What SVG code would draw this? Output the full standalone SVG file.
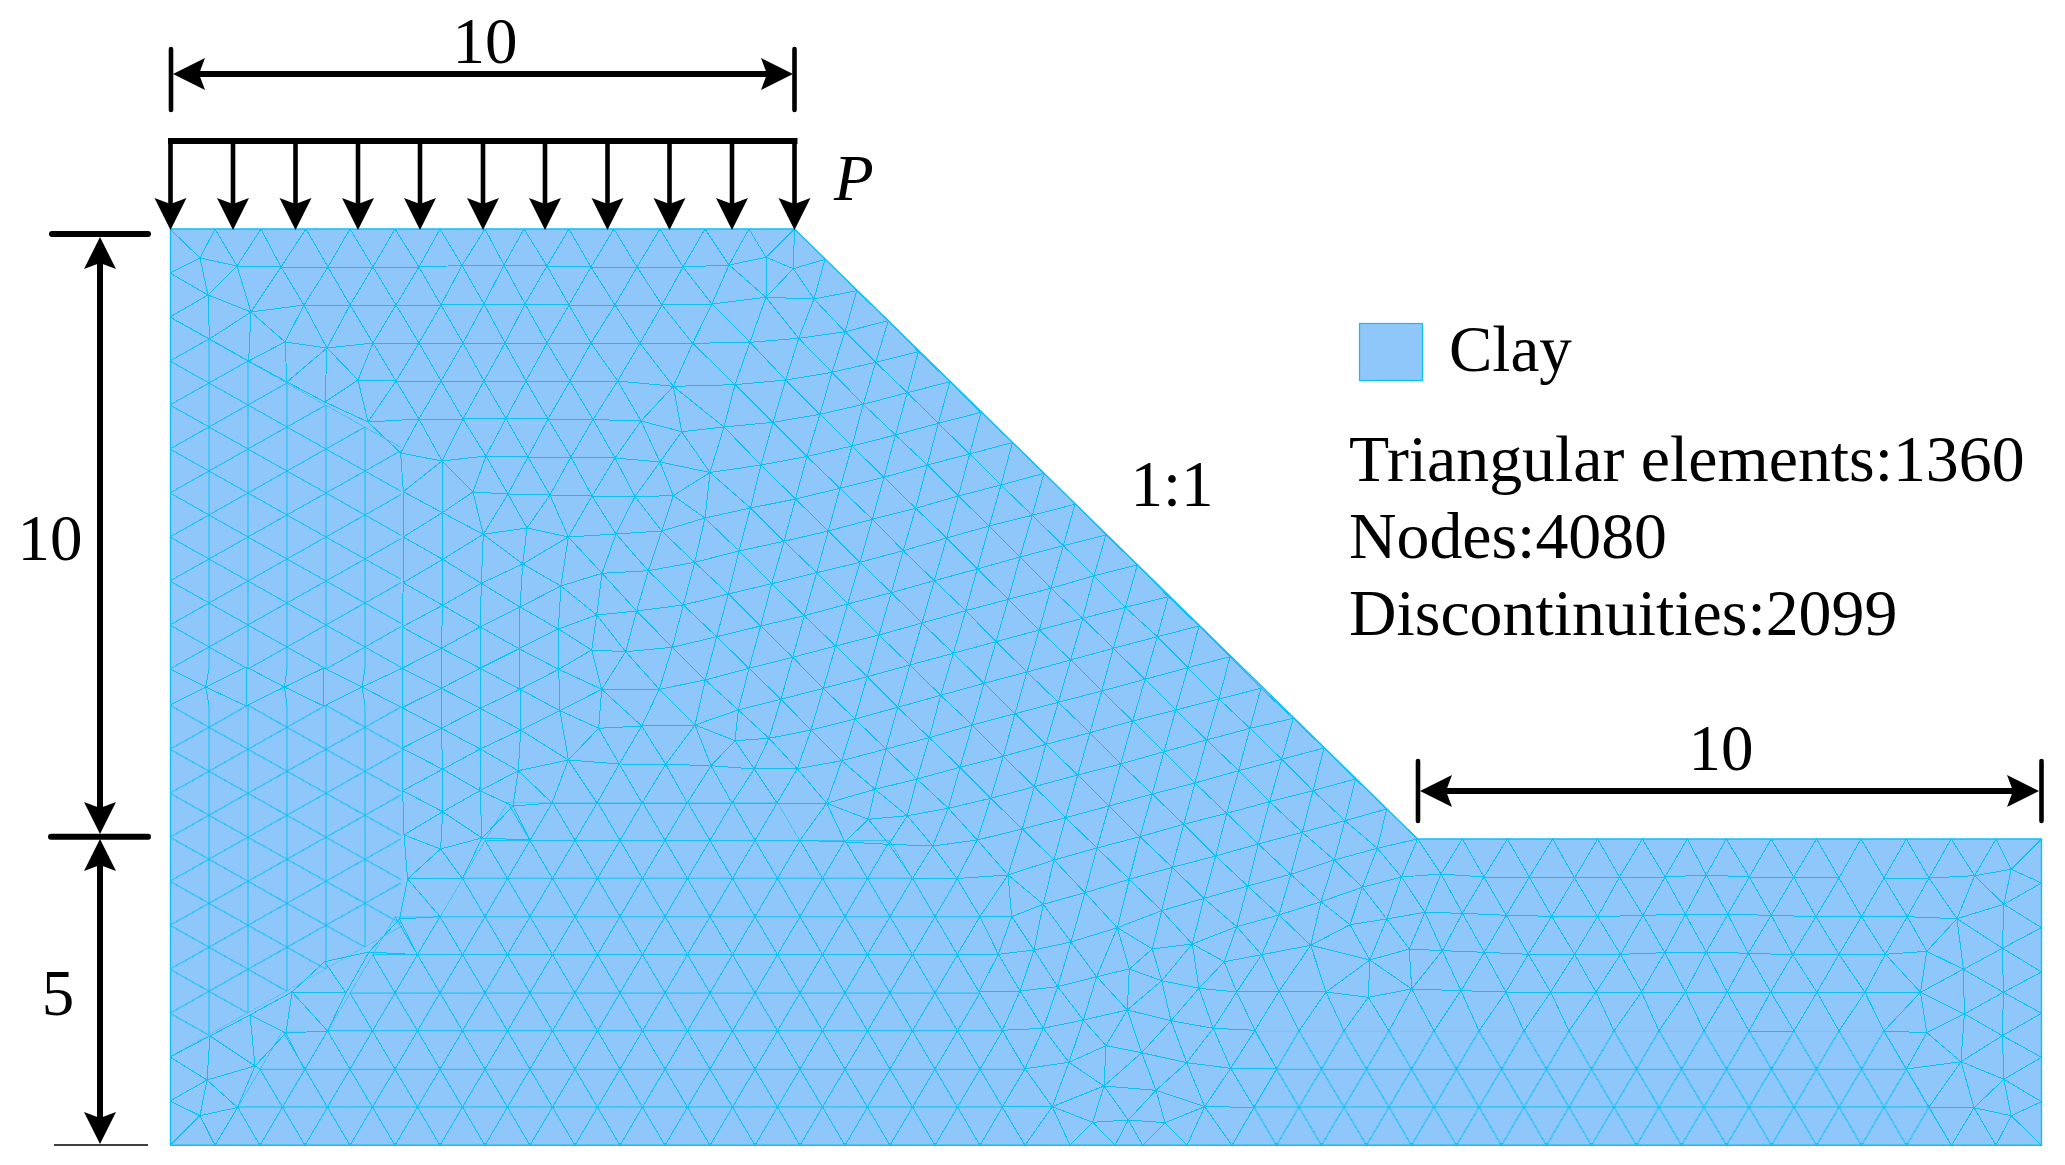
<svg xmlns="http://www.w3.org/2000/svg" width="2065" height="1165" viewBox="0 0 2065 1165">
<style>
.m{fill:none;stroke:#0bc0f5;stroke-width:1;shape-rendering:crispEdges}
.t{font-family:"Liberation Serif","Times New Roman",serif;font-size:65px;fill:#000}
.w{font-size:65.8px}
.c{text-anchor:middle}
.k{stroke:#000;fill:none;stroke-width:6}
.s{stroke:#000;fill:none;stroke-width:4.6}
.r{stroke-linecap:round}
</style>
<defs>
<marker id="ah" markerUnits="userSpaceOnUse" markerWidth="40" markerHeight="36" viewBox="0 -18 40 36" refX="6" refY="0" orient="auto-start-reverse"><path d="M0-16 32 0 0 16 6 0Z" fill="#000"/></marker>
<pattern id="h1" patternUnits="userSpaceOnUse" x="170" y="1126.24" width="45" height="76.24"><path class="m" d="M0 19.06H45M0 57.18H45M-11.25 0 33.75 76.24M33.75 0 78.75 76.24M56.25 0 11.25 76.24M11.25 0-33.75 76.24"/></pattern>
<pattern id="h2" patternUnits="userSpaceOnUse" x="2041.5" y="1126.24" width="45" height="76.24"><path class="m" d="M0 19.06H45M0 57.18H45M-11.25 0 33.75 76.24M33.75 0 78.75 76.24M56.25 0 11.25 76.24M11.25 0-33.75 76.24"/></pattern>
<pattern id="d1" patternUnits="userSpaceOnUse" x="150.5" y="229" width="78" height="88"><path class="m" d="M0-11 78 33M0 33 78 77M0 77 78 121M0 11 78-33M0 55 78 11M0 99 78 55M19.5 0V88M58.5 0V88"/></pattern>
<pattern id="d2" patternUnits="userSpaceOnUse" x="150.5" y="1145.3" width="78" height="88"><path class="m" d="M0-11 78 33M0 33 78 77M0 77 78 121M0 11 78-33M0 55 78 11M0 99 78 55M19.5 0V88M58.5 0V88"/></pattern>
</defs>
<rect width="2065" height="1165" fill="#fff"/>
<g id="soil">
<polygon points="170.5,229 794.5,229 1417.6,839 2041.5,839 2041.5,1145.3 170.5,1145.3" fill="#90c7fa"/>
<polygon id="mesh-lattice-bl" fill="url(#h1)" points="215,1145.3 237.5,1107.2 260,1069.1 282.5,1031 327.5,1031 350,992.8 372.5,954.7 395,916.6 440,916.6 462.5,878.5 485,840.3 507.5,802.2 777.5,802.2 800,840.3 890,840.3 912.5,878.5 957.5,878.5 980,916.6 957.5,954.7 980,992.8 1002.5,1031 1025,1069.1 1002.5,1107.2 1025,1145.3"/>
<polygon id="mesh-lattice-br" fill="url(#h2)" points="1254,1031 1884,1031 1906.5,1069.1 1929,1107.2 1951.5,1145.3 1231.5,1145.3 1254,1107.2 1276.5,1069.1"/>
<polygon id="mesh-diamond-top" fill="url(#d1)" points="170,317 209,339 248,361 287,383 326,405 365,427 401,447 401,669 170,669"/>
<polygon id="mesh-diamond-bottom" fill="url(#d2)" points="170,705 401,705 401,927 365,947 326,969 287,991 248,1013 209,1035 170,1057"/>
<path id="mesh-top" class="m" d="M170 229 200 258 215 229 237 266 261 229 281 267 306 229 328 267 350 229 373 267 395 229 419 267 440 229 462 265.5 485 229 504 265 524 229 547 266 569 229 591 267 614 229 637 267 660 229 683 267 705 229 729 265 749 229 766 257.3 794.5 229 793.3 268.7
M200 258 237 266 281 267 328 267 373 267 419 267 462 265.5 504 265 547 266 591 267 637 267 683 267 729 265 766 257.3 793.3 268.7 825 259.3
M208 295 251 312 304 305 350 305 396 305 441 305 484 304 525 304 569 305 615 305 662 305 712 304 766 297.3 814 299 856.7 290.7
M251 312 285 342 327 348 373 343 419 343 463 343 505 343 547 343 591 343 640 343.3 692.7 343.3 750 342.3 798.7 338.3 845 331.7 888.3 320.7
M358 380 396 381 441 381 484 381 526 381 570 381 617.7 381 673.3 386.3 735 384.7 785.7 380 832 372.3 875.7 362.3 918.3 351.7
M368 422 419 419 463 419 506 418.5 548 419 593 419.5 641 421 681.7 431.7 724 427 773 422.3 820 414.3 863.3 404.3 907.3 392.7 950 381.7
M400.7 453 442 461 486 456 528 457 571 457 615 458 660 462 710 472.5 761 465 807 456.5 852 446 895.5 435 938.3 423.3 981 412.3
M473 492 508 494 550 495 592 496 635 496.5 673.3 495.7 705 518
M483.3 534.3 527 528 568.3 537 616 534 661.7 531 705 518 750.5 508 795.5 499 840 488.3 884 477.3 927.3 465 969.7 454 1012.5 442.5
M237 266 251 312 281 267 304 305 328 267 350 305 373 267 396 305 419 267 441 305 462 265.5 484 304 504 265 525 304 547 266 569 305 591 267 615 305 637 267 662 305 683 267 712 304 729 265 766 297.3 766 257.3M766 297.3 793.3 268.7 814 299 825 259.3 856.7 290.7
M251 312 285 342 304 305 327 348 350 305 373 343 396 305 419 343 441 305 463 343 484 304 505 343 525 304 547 343 569 305 591 343 615 305 640 343.3 662 305 692.7 343.3 712 304 750 342.3 766 297.3 798.7 338.3 814 299 845 331.7 856.7 290.7 888.3 320.7
M327 348 358 380 373 343 396 381 419 343 441 381 463 343 484 381 505 343 526 381 547 343 570 381 591 343 617.7 381 640 343.3 673.3 386.3 692.7 343.3 735 384.7 750 342.3 785.7 380 798.7 338.3 832 372.3 845 331.7 875.7 362.3 888.3 320.7 918.3 351.7
M358 380 368 422 396 381 419 419 441 381 463 419 484 381 506 418.5 526 381 548 419 570 381 593 419.5 617.7 381 641 421 673.3 386.3 681.7 431.7M673.3 386.3 724 427 735 384.7 773 422.3 785.7 380 820 414.3 832 372.3 863.3 404.3 875.7 362.3 907.3 392.7 918.3 351.7 950 381.7
M368 422 400.7 453 419 419 442 461 463 419 486 456 506 418.5 528 457 548 419 571 457 593 419.5 615 458 641 421 660 462 681.7 431.7 710 472.5 724 427 761 465 773 422.3 807 456.5 820 414.3 852 446 863.3 404.3 895.5 435 907.3 392.7 938.3 423.3 950 381.7 981 412.3
M442 461 473 492 486 456 508 494 528 457 550 495 571 457 592 496 615 458 635 496.5 660 462 673.3 495.7 710 472.5 705 518M710 472.5 750.5 508 761 465 795.5 499 807 456.5 840 488.3 852 446 884 477.3 895.5 435 927.3 465 938.3 423.3 969.7 454 981 412.3 1012.5 442.5
M473 492 483.3 534.3 508 494 527 528 550 495 568.3 537 592 496 616 534 635 496.5 661.7 531 673.3 495.7"/>
<path id="mesh-stair-top" class="m" d="M170 273 208 295 170 317 209.5 339 251 312 248.6 361 285 342 287 382 327 348 325 402 358 380 368 422 325 402 287 382 248.6 361 209.5 339 208 295 200 258 170 273M208 295 237 266M327 348 358 380M251 312 208 295"/>
<path id="mesh-columns" class="m" d="M400.7 453 403.3 491.7 403.3 537 403.3 582.7 402 627 402 668.3 402 707.7 402 748.3 402.7 790.7 404 835 407.6 879
M442 461 442.3 512.7 442.7 559.3 442.7 605.3 441.3 648.3 441.3 688.3 441.3 728.3 442.7 769.3 442.7 811.7 440.6 849
M473 492 483.3 534.3 481.3 583.3 480.3 627 480 668.3 480.3 708.3 480.3 749 480 790.7 482 838
M527 528 522.7 564 520 607 519 648.7 520 689.3 520.7 730 518.3 770.7 513 806
M568.3 537 561 586 558.3 629 558.7 669.3 560 710.7 568.3 760
M602 573.3 596.7 615 591.7 650 601.7 689.3 598.7 728.3
M442 461 403.3 491.7 442.3 512.7 403.3 537 442.7 559.3 403.3 582.7 442.7 605.3 402 627 441.3 648.3 402 668.3 441.3 688.3 402 707.7 441.3 728.3 402 748.3 442.7 769.3 402.7 790.7 442.7 811.7 404 835 440.6 849
M442.3 512.7 473 492M442.3 512.7 483.3 534.3 442.7 559.3 481.3 583.3 442.7 605.3 480.3 627 441.3 648.3 480 668.3 441.3 688.3 480.3 708.3 441.3 728.3 480.3 749 442.7 769.3 480 790.7 442.7 811.7 482 838
M527 528 483.3 534.3 522.7 564 481.3 583.3 520 607 480.3 627 519 648.7 480 668.3 520 689.3 480.3 708.3 520.7 730 480.3 749 518.3 770.7 480 790.7 513 806
M568.3 537 522.7 564 561 586 520 607 558.3 629 519 648.7 558.7 669.3 520 689.3 560 710.7 520.7 730 568.3 760
M568.3 537 602 573.3 561 586 596.7 615 558.3 629 591.7 650 558.7 669.3 601.7 689.3 560 710.7 598.7 728.3 568.3 760
M170 669 205.7 687 246 667 284.5 687 323.7 668 362 687 402 668.3M170 705 205.7 687 246 706 284.5 687 323.7 706 362 687 402 707.7
M246 667V706M323.7 668V706M209 669 205.7 687 209 705M287 669 284.5 687 287 705M365 669 362 687 365 705"/>
<path id="mesh-slope-rows" class="m" d="M602 573.3 648.3 570.7 694.7 562.3 739 551 784 541.3 828.3 531 872.3 519.3 915.7 508.3 958.3 496 1001 485 1044 473.3
M596.7 615 636.7 611 683.3 605 728.3 594 771.7 583.7 816.7 572.7 860 562.3 903.3 550.7 946.7 538 989.3 526 1032.3 515.3 1075 504.3
M591.7 650 625.7 651.7 672.3 647.3 716.7 636.7 760.7 626 804.3 615.7 847.7 604 891.3 592.7 934.3 580.7 977.3 569 1020 557 1063.3 545.7 1106 535
M601.7 689.3 659.3 689.3 705.3 680 749 668.3 792.7 657.3 835.7 646 879 635 922 623 965.7 610.7 1008.3 599.3 1051 588.3 1094 575.7 1137.3 565
M598.7 728.3 641.7 726 695 725 738.3 710 781 699.3 823.3 688.3 867.3 676.7 910 665 953.3 653.3 996 641.7 1039.3 630 1082.7 618.3 1125.3 607.3 1168.3 596.7
M735 740.7 769 738.3 811 730 855 719 897.7 707.3 940.7 695.3 984 683.3 1027 672 1070.7 660 1113.3 648.3 1157.3 636.7 1199 626
M518.3 770.7 568.3 760 619.3 764 665.7 764.3 711 765.7 754.3 769 797.3 768.7 841.7 760.7 886 749 929.3 737.7 972.3 725 1015 713.7 1058.3 702.3 1101.7 691 1145 679.3 1188 667.7 1230 656.7
M513 806 552 803 597 803 642 803 687.3 803 732 803 777 803 826.7 803.3 875 789.3 917 779 960 767.3 1003.3 756.3 1046 744.3 1090 732.7 1132.7 721 1175.7 710 1219 699 1261 688.3
M868.3 819.3 907.3 815.7 948.3 808.3 990.7 798.3 1034.3 786.7 1077.7 775 1120.7 764 1164 751.7 1206.7 740 1250 728.3 1293.3 718.3
M800 840.3 845 842 889 844.3 932.7 846 977.3 840 1022.3 829 1065.7 817.7 1109 806 1152.3 794 1195 783 1238.7 770.7 1281.7 759.3 1324 748
M912.5 878.5 957 878.5 1008 875 1054 860 1097 848 1140 836.7 1183.7 824.3 1226.7 813.3 1269.7 801.7 1313 790.7 1355.5 779
M980 916.6 1011.7 916.7 1043.3 904.3 1085 892.7 1129.3 879.3 1172.3 867.3 1215.7 856 1258.3 844 1302.3 832.3 1345 820.7 1386.7 809
M957 954.7 998.3 954.3 1034 950 1071 942 1117.3 927.7 1161.7 910.7 1204 898.3 1247.7 886 1290.7 874.3 1334.3 860 1377.3 848.3 1417.6 839
M1152.3 949 1192.3 944 1236.7 926.7 1279 915 1321 901.7 1362.3 887.3 1401.5 877"/>
<path id="mesh-slope-zig" class="m" d="M568.3 537 602 573.3 616 534 648.3 570.7 661.7 531 694.7 562.3 705 518 739 551 750.5 508 784 541.3 795.5 499 828.3 531 840 488.3 872.3 519.3 884 477.3 915.7 508.3 927.3 465 958.3 496 969.7 454 1001 485 1012.5 442.5 1044 473.3
M596.7 615 602 573.3 636.7 611 648.3 570.7 683.3 605 694.7 562.3 728.3 594 739 551 771.7 583.7 784 541.3 816.7 572.7 828.3 531 860 562.3 872.3 519.3 903.3 550.7 915.7 508.3 946.7 538 958.3 496 989.3 526 1001 485 1032.3 515.3 1044 473.3 1075 504.3
M591.7 650 596.7 615 625.7 651.7 636.7 611 672.3 647.3 683.3 605 716.7 636.7 728.3 594 760.7 626 771.7 583.7 804.3 615.7 816.7 572.7 847.7 604 860 562.3 891.3 592.7 903.3 550.7 934.3 580.7 946.7 538 977.3 569 989.3 526 1020 557 1032.3 515.3 1063.3 545.7 1075 504.3 1106 535
M591.7 650 601.7 689.3 625.7 651.7 659.3 689.3 672.3 647.3 705.3 680 716.7 636.7 749 668.3 760.7 626 792.7 657.3 804.3 615.7 835.7 646 847.7 604 879 635 891.3 592.7 922 623 934.3 580.7 965.7 610.7 977.3 569 1008.3 599.3 1020 557 1051 588.3 1063.3 545.7 1094 575.7 1106 535 1137.3 565
M598.7 728.3 601.7 689.3 641.7 726 659.3 689.3 695 725 705.3 680 738.3 710 749 668.3 781 699.3 792.7 657.3 823.3 688.3 835.7 646 867.3 676.7 879 635 910 665 922 623 953.3 653.3 965.7 610.7 996 641.7 1008.3 599.3 1039.3 630 1051 588.3 1082.7 618.3 1094 575.7 1125.3 607.3 1137.3 565 1168.3 596.7
M695 725 735 740.7 738.3 710 769 738.3 781 699.3 811 730 823.3 688.3 855 719 867.3 676.7 897.7 707.3 910 665 940.7 695.3 953.3 653.3 984 683.3 996 641.7 1027 672 1039.3 630 1070.7 660 1082.7 618.3 1113.3 648.3 1125.3 607.3 1157.3 636.7 1168.3 596.7 1199 626
M568.3 760 598.7 728.3 619.3 764 641.7 726 665.7 764.3 695 725 711 765.7 735 740.7 754.3 769 769 738.3 797.3 768.7 811 730 841.7 760.7 855 719 886 749 897.7 707.3 929.3 737.7 940.7 695.3 972.3 725 984 683.3 1015 713.7 1027 672 1058.3 702.3 1070.7 660 1101.7 691 1113.3 648.3 1145 679.3 1157.3 636.7 1188 667.7 1199 626 1230 656.7
M552 803 568.3 760 597 803 619.3 764 642 803 665.7 764.3 687.3 803 711 765.7 732 803 754.3 769 777 803 797.3 768.7 826.7 803.3 841.7 760.7 875 789.3 886 749 917 779 929.3 737.7 960 767.3 972.3 725 1003.3 756.3 1015 713.7 1046 744.3 1058.3 702.3 1090 732.7 1101.7 691 1132.7 721 1145 679.3 1175.7 710 1188 667.7 1219 699 1230 656.7 1261 688.3
M826.7 803.3 868.3 819.3 875 789.3 907.3 815.7 917 779 948.3 808.3 960 767.3 990.7 798.3 1003.3 756.3 1034.3 786.7 1046 744.3 1077.7 775 1090 732.7 1120.7 764 1132.7 721 1164 751.7 1175.7 710 1206.7 740 1219 699 1250 728.3 1261 688.3 1293.3 718.3
M800 840.3 826.7 803.3 845 842 868.3 819.3 889 844.3 907.3 815.7 932.7 846 948.3 808.3 977.3 840 990.7 798.3 1022.3 829 1034.3 786.7 1065.7 817.7 1077.7 775 1109 806 1120.7 764 1152.3 794 1164 751.7 1195 783 1206.7 740 1238.7 770.7 1250 728.3 1281.7 759.3 1293.3 718.3 1324 748
M889 844.3 912.5 878.5 932.7 846 957 878.5 977.3 840 1008 875 1022.3 829 1054 860 1065.7 817.7 1097 848 1109 806 1140 836.7 1152.3 794 1183.7 824.3 1195 783 1226.7 813.3 1238.7 770.7 1269.7 801.7 1281.7 759.3 1313 790.7 1324 748 1355.5 779
M957 878.5 980 916.6 1008 875 1043.3 904.3 1054 860 1085 892.7 1097 848 1129.3 879.3 1140 836.7 1172.3 867.3 1183.7 824.3 1215.7 856 1226.7 813.3 1258.3 844 1269.7 801.7 1302.3 832.3 1313 790.7 1345 820.7 1355.5 779 1386.7 809
M1008 875 1011.7 916.7
M957 954.7 980 916.6 998.3 954.3 1011.7 916.7 1034 950 1043.3 904.3 1071 942 1085 892.7 1117.3 927.7 1129.3 879.3 1161.7 910.7 1172.3 867.3 1204 898.3 1215.7 856 1247.7 886 1258.3 844 1290.7 874.3 1302.3 832.3 1334.3 860 1345 820.7 1377.3 848.3 1386.7 809 1417.6 839
M1152.3 949 1161.7 910.7 1192.3 944 1204 898.3 1236.7 926.7 1247.7 886 1279 915 1290.7 874.3 1321 901.7 1334.3 860 1362.3 887.3 1377.3 848.3 1401.5 877 1417.6 839"/>
<path id="mesh-stair-bottom" class="m" d="M170 1145.3 200 1115.7 170 1101 207 1080 200 1115.7 237.5 1107.5 207 1080 170 1057 210 1036 207 1080 255 1066 210 1036 250 1015 255 1066 286 1033 250 1015 292 992 286 1033 327.5 1031 292 992 346 993 327.5 1031
M200 1115.7 215 1145.3 237.5 1107.5 255 1066 260 1069M286 1033 304 1069M292 992 324.6 961.7 346 993 369 952 324.6 961.7M369 952 417.5 954.7 399.6 919 369 952M399.6 919 440 916.6 407.6 879 399.6 919M407.6 879 462.5 878.5 440.6 849 407.6 879M440.6 849 482 838 462.5 878.5M482 838 530 840 513 806 482 838M513 806 552 803 518.3 770.7 513 806M552 803 568.3 760M170 1057 210 1036 250 1015"/>
<path id="mesh-toe-seam" class="m" d="M979 992 1020 991 1057.7 986.7 1096.7 976.7 1129.3 969 1161.7 980.7 1199 988.3 1236.7 992 1279 991.3 1326 992 1368.3 997.3 1411.7 989 1461 990.7 1505.9 992 1550.7 992 1596 992 1641.5 992 1685.4 992 1727.3 992 1770.7 992 1817 992.3 1865 992.3 1920.5 992.3
M957 954.7 980 916.6M957 954.7 979 992 998.3 954.3 1020 991 1034 950 1057.7 986.7 1071 942 1096.7 976.7 1117.3 927.7 1129.3 969 1152.3 949 1161.7 980.7 1192.3 944 1199 988.3 1224.3 961.7 1236.7 992 1261.7 954.7 1279 991.3 1310.7 945.3 1326 992
M1117.3 927.7 1152.3 949M979 992 1002.3 1030.3 1020 991 1043.3 1028.3 1057.7 986.7 1083.3 1020 1096.7 976.7 1127.3 1010 1129.3 969
M1127.3 1010 1161.7 980.7 1171 1020.7 1199 988.3 1213.3 1028.3 1236.7 992 1255 1030.3 1279 991.3 1299 1031 1326 992 1344 1031 1368.3 997.3 1389 1031 1411.7 989 1434 1031 1461 990.7 1479 1031 1505.9 992 1524 1031 1550.7 992 1569 1031 1596 992 1614 1031 1641.5 992 1659 1031 1685.4 992 1704 1031 1727.3 992 1749 1031 1794 1031 1770.7 992 1749 1031M1794 1031 1817 992.3 1839 1031 1865 992.3 1884 1031 1920.5 992.3 1926.8 1032.7
M1002.3 1030.3 1043.3 1028.3 1083.3 1020 1127.3 1010 1171 1020.7 1213.3 1028.3 1255 1030.3
M1002.3 1030.3 1025 1068.7 1043.3 1028.3 1069 1062.3 1083.3 1020 1106 1045.7 1127.3 1010 1141.7 1052.7 1171 1020.7 1186.7 1062.7 1213.3 1028.3 1230.7 1068.3 1255 1030.3 1276.7 1068.7
M1025 1068.7 1069 1062.3 1106 1045.7 1141.7 1052.7 1186.7 1062.7 1230.7 1068.3 1276.7 1068.7
M1002.3 1107 1025 1068.7 1052.3 1106.7 1069 1062.3 1104 1086 1106 1045.7M1104 1086 1141.7 1052.7 1156 1090.3 1186.7 1062.7 1204.7 1106.7 1230.7 1068.3 1254 1107.3 1276.7 1068.7
M1002.3 1107 1052.3 1106.7 1104 1086 1156 1090.3 1204.7 1106.7 1254 1107.3
M1052.3 1106.7 1092.7 1122.3 1128.3 1120 1165 1122.7 1204.7 1106.7M1104 1086 1092.7 1122.3M1104 1086 1128.3 1120 1156 1090.3 1165 1122.7
M1002.3 1107 1025 1145.3 1052.3 1106.7 1070 1145.3 1092.7 1122.3 1115 1145.3 1128.3 1120 1142.7 1145.3 1165 1122.7 1187 1145.3 1204.7 1106.7 1232 1145.3 1254 1107.3
M1192.3 944 1224.3 961.7 1236.7 926.7 1261.7 954.7 1279 915 1310.7 945.3 1321 901.7 1350 924.7 1362.3 887.3 1386.8 919 1401.5 877 1424.9 912.3
M1224.3 961.7 1261.7 954.7 1310.7 945.3 1350 924.7 1386.8 919 1424.9 912.3 1462.4 913.3 1506.3 915.3 1551.7 916.3 1597.6 916.7 1643 915.3 1685.4 914.3 1727.8 914.3 1771.2 915.3 1816 916.7 1861.5 916.7 1907.3 916.7 1957 918.7 2003.9 904.3
M1310.7 945.3 1369.8 960 1409.3 949 1442.4 950.7 1484.4 952.3 1528.3 954.3 1574.6 954.3 1620.5 954.3 1664.9 952.7 1706.3 952 1748.3 953.3 1792.7 954.7 1839 954.3 1885.4 954.3 1926.8 951.3
M1350 924.7 1369.8 960 1386.8 919M1369.8 960 1326 992M1369.8 960 1368.3 997.3M1369.8 960 1411.7 989 1409.3 949
M1411.7 989 1442.4 950.7 1461 990.7 1484.4 952.3 1505.9 992 1528.3 954.3 1550.7 992 1574.6 954.3 1596 992 1620.5 954.3 1641.5 992 1664.9 952.7 1685.4 992 1706.3 952 1727.3 992 1748.3 953.3 1770.7 992 1792.7 954.7 1817 992.3 1839 954.3 1865 992.3 1885.4 954.3 1920.5 992.3 1926.8 951.3"/>
<path id="mesh-right-band" class="m" d="M1401.5 877 1441 874 1484 877 1529.3 877 1574.6 878 1619.5 877 1665 877 1706.3 875 1749.3 877 1793.7 877 1839 878 1884 878 1929 878 1974.6 875.7 2011.2 869.3
M1401.5 877 1417.6 839 1441 874 1462.4 839 1484 877 1507.3 839 1529.3 877 1552.7 839 1574.6 878 1597.6 839 1619.5 877 1642.4 839 1665 877 1687.3 839 1706.3 875 1726.3 839 1749.3 877 1771.2 839 1793.7 877 1816.6 839 1839 878 1861 839 1884 878 1906.3 839 1929 878 1951.2 839 1974.6 875.7 1996 839 2011.2 869.3 2041.5 839
M1386.8 919 1401.5 877 1424.9 912.3 1441 874 1462.4 913.3 1484 877 1506.3 915.3 1529.3 877 1551.7 916.3 1574.6 878 1597.6 916.7 1619.5 877 1643 915.3 1665 877 1685.4 914.3 1706.3 875 1727.8 914.3 1749.3 877 1771.2 915.3 1793.7 877 1816 916.7 1839 878 1861.5 916.7 1884 878 1907.3 916.7 1929 878 1957 918.7 1974.6 875.7 2003.9 904.3 2011.2 869.3
M1409.3 949 1424.9 912.3 1442.4 950.7 1462.4 913.3 1484.4 952.3 1506.3 915.3 1528.3 954.3 1551.7 916.3 1574.6 954.3 1597.6 916.7 1620.5 954.3 1643 915.3 1664.9 952.7 1685.4 914.3 1706.3 952 1727.8 914.3 1748.3 953.3 1771.2 915.3 1792.7 954.7 1816 916.7 1839 954.3 1861.5 916.7 1885.4 954.3 1907.3 916.7 1926.8 951.3 1957 918.7
M1386.8 919 1409.3 949
M2011.2 869.3 2041.5 883 2003.9 904.3 2041.5 927.7 2002.4 948.3 2041.5 972 2003.4 992.3 2041.5 1013.3 2002.4 1035.7 2041.5 1057.3 2003.9 1079.3 2041.5 1101.7 2011.2 1115.7 2041.5 1145.3
M2011.2 869.3 2003.9 904.3 2002.4 948.3 2003.4 992.3 2002.4 1035.7 2003.9 1079.3 2011.2 1115.7
M1957 918.7 2002.4 948.3 1963.4 969.3 2003.4 992.3 1964.4 1014 2002.4 1035.7 1961 1061.7 2003.9 1079.3 1974 1107.7 2011.2 1115.7
M1957 918.7 1963.4 969.3 1964.4 1014 1961 1061.7 1974 1107.7
M1957 918.7 1926.8 951.3 1963.4 969.3 1920.5 992.3 1964.4 1014 1926.8 1032.7 1961 1061.7
M1926.8 951.3 1920.5 992.3 1926.8 1032.7
M1884 1031 1926.8 1032.7M1906.5 1069 1961 1061.7M1929 1107 1974 1107.7M1906.5 1069 1926.8 1032.7M1929 1107 1961 1061.7
M1884 1031 1906.5 1069.1 1929 1107.2 1951.5 1145.3 1974 1107.7 1996 1145.3 2011.2 1115.7"/>
<polygon id="soil-border" points="170.5,229 794.5,229 1417.6,839 2041.5,839 2041.5,1145.3 170.5,1145.3" fill="none" stroke="#0bc0f5" stroke-width="1.4"/>
</g>
<g id="load">
<path class="k" d="M168 141H797.5" stroke-width="6.5"/>
<path class="s" marker-end="url(#ah)" d="M170.5 141V204"/>
<path class="s" marker-end="url(#ah)" d="M233 141V204"/>
<path class="s" marker-end="url(#ah)" d="M295.5 141V204"/>
<path class="s" marker-end="url(#ah)" d="M358 141V204"/>
<path class="s" marker-end="url(#ah)" d="M420 141V204"/>
<path class="s" marker-end="url(#ah)" d="M483 141V204"/>
<path class="s" marker-end="url(#ah)" d="M545 141V204"/>
<path class="s" marker-end="url(#ah)" d="M607.5 141V204"/>
<path class="s" marker-end="url(#ah)" d="M669.5 141V204"/>
<path class="s" marker-end="url(#ah)" d="M732 141V204"/>
<path class="s" marker-end="url(#ah)" d="M794.5 141V204"/>
</g>
<g id="dimensions">
<path class="s r" d="M171 49V110M794.5 49V110M1418 761V821M2041.5 761V821"/>
<path class="k" marker-start="url(#ah)" marker-end="url(#ah)" d="M199 74H767"/>
<path class="k" marker-start="url(#ah)" marker-end="url(#ah)" d="M1446 791H2013"/>
<path class="k r" d="M52 234H148M51 836.7H148"/>
<path d="M54 1145H148" stroke="#000" stroke-width="1.5"/>
<path class="k" marker-start="url(#ah)" marker-end="url(#ah)" d="M100 263V808"/>
<path class="k" marker-start="url(#ah)" marker-end="url(#ah)" d="M100 865V1118"/>
</g>
<g id="labels">
<text class="t c" x="485" y="63">10</text>
<text class="t c" x="1721" y="770">10</text>
<text class="t c" x="50" y="559.5">10</text>
<text class="t c" x="58" y="1015">5</text>
<text class="t" x="834" y="200" font-style="italic">P</text>
<text class="t c" x="1172" y="506">1:1</text>
<text class="t w" x="1349" y="480.7">Triangular elements:1360</text>
<text class="t w" x="1349" y="557.7">Nodes:4080</text>
<text class="t w" x="1349" y="635">Discontinuities:2099</text>
</g>
<g id="legend">
<rect x="1359.5" y="323.5" width="63" height="57" fill="#90c7fa" stroke="#0bc0f5" stroke-width="1.2"/>
<text class="t" x="1449" y="370.7">Clay</text>
</g>
</svg>
